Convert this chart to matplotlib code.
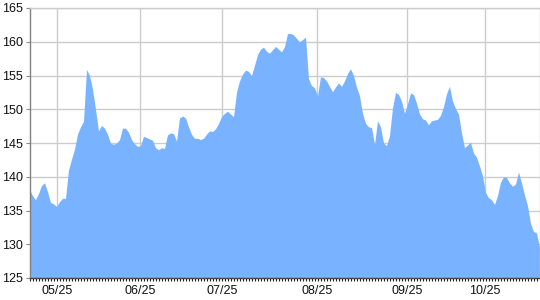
import numpy as np
import matplotlib.pyplot as plt
from matplotlib.ticker import MultipleLocator

# one value per trading day
prices = [
    138.1, 137.2, 136.6, 137.5, 138.7, 139.1, 137.8, 136.2, 136.0, 135.6,
    136.3, 136.8, 136.8, 141.0, 142.6, 144.1, 146.3, 147.4, 148.2, 155.9,
    155.0, 153.0, 150.0, 146.8, 147.6, 147.2, 146.3, 145.0, 144.8, 145.0,
    145.5, 147.2, 147.2, 146.6, 145.5, 144.9, 144.5, 144.6, 146.0, 145.8,
    145.6, 145.4, 144.3, 144.0, 144.3, 144.2, 146.2, 146.5, 146.4, 145.3,
    148.7, 149.0, 148.7, 147.4, 146.3, 145.7, 145.7, 145.5, 145.7, 146.3,
    146.8, 146.7, 147.1, 147.9, 148.9, 149.4, 149.7, 149.3, 148.9, 152.5,
    154.2, 155.2, 155.8, 155.6, 155.0, 156.5, 158.1, 158.9, 159.2, 158.6,
    158.3, 158.8, 159.3, 158.9, 158.5, 159.3, 161.2, 161.25, 161.0, 160.5,
    160.0, 160.3, 160.7, 154.5, 153.5, 153.2, 152.0, 154.8, 154.7, 154.2,
    153.4, 152.6, 153.3, 153.9, 153.4, 154.2, 155.3, 156.0, 155.0, 153.3,
    152.0, 149.4, 147.9, 147.4, 147.3, 144.8, 148.3, 147.4, 145.0, 144.6,
    146.1, 150.2, 152.5, 152.2, 151.2, 149.4, 150.8, 152.4, 152.2, 150.9,
    149.3, 148.6, 148.4, 147.7, 148.3, 148.4, 148.5, 149.1, 150.4, 152.3,
    153.4, 151.2, 150.1, 149.3, 146.5, 144.3, 144.7, 145.1, 143.5, 142.9,
    141.6, 140.1, 137.7, 136.9, 136.6, 135.9, 137.2, 139.2, 140.0, 139.9,
    139.1, 138.6, 138.9, 140.7, 139.1, 137.3, 135.7, 133.1, 131.9, 131.7,
    129.5,
]

# month label positions (in trading-day index) and their text
month_pos = [9.3, 36.8, 64.3, 95.9, 125.9, 151.9]
month_labels = ["05/25", "06/25", "07/25", "08/25", "09/25", "10/25"]

plt.rcParams['font.family'] = ['Liberation Sans', 'DejaVu Sans']

x = np.arange(len(prices))

fig = plt.figure(figsize=(5.4, 3.0), dpi=100)
ax = fig.add_axes([29.5 / 540, 22 / 300, 510 / 540, 270 / 300])

ax.fill_between(x, prices, 125, color="#79B3FF", linewidth=0, zorder=2)

ax.set_xlim(0, len(prices) - 1)
ax.set_ylim(125, 165)

ax.yaxis.set_major_locator(MultipleLocator(5))
ax.set_xticks(month_pos)
ax.set_xticklabels(month_labels)
ax.set_xticks(x, minor=True)

ax.grid(True, color="#cccccc", linewidth=1.0, zorder=1)
ax.set_axisbelow(True)

ax.tick_params(axis="y", direction="out", length=3, width=0.8, color="#8c8c8c",
               labelsize=9, pad=1.5, labelcolor="#111111")
ax.tick_params(axis="x", which="major", length=0, labelsize=9, pad=5,
               labelcolor="#111111")
ax.tick_params(axis="x", which="minor", direction="out", length=2.2,
               width=0.8, color="#222222")

for side in ["top", "right"]:
    ax.spines[side].set_color("#cccccc")
    ax.spines[side].set_linewidth(1.0)
ax.spines["left"].set_color("#808080")
ax.spines["bottom"].set_color("#444444")
ax.spines["left"].set_linewidth(1.0)
ax.spines["bottom"].set_linewidth(1.0)

fig.savefig("out.png", dpi=100)
